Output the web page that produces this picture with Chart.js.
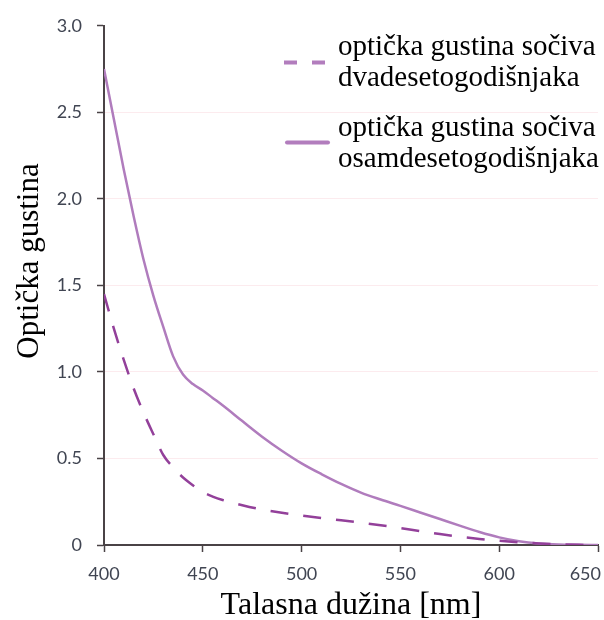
<!DOCTYPE html>
<html lang="sr">
<head>
  <meta charset="UTF-8">
  <title>Optička gustina sočiva</title>
  <script src="https://cdn.jsdelivr.net/npm/chart.js"></script>
  <style>
    body {
      margin: 0;
      background: #fff;
    }
    #wrap {
      width: 604px;
      height: 620px;
    }
  </style>
</head>
<body>
  <div id="wrap">
    <canvas id="lensChart" width="604" height="620"></canvas>
  </div>

  <script>
    // wavelength samples (nm)
    const wavelengths = [400, 405, 410, 415, 420, 425, 430, 435, 440, 445, 450, 455, 460, 470, 480, 490,
                         500, 510, 520, 530, 540, 550, 560, 570, 580, 590, 600, 610, 620, 630, 640, 650];

    // lens optical density, 20-year-old
    const density20 = [1.45, 1.25, 1.07, 0.905, 0.765, 0.64, 0.52, 0.448, 0.39, 0.345, 0.306, 0.28, 0.26, 0.23, 0.205, 0.186,
                       0.17, 0.156, 0.143, 0.129, 0.114, 0.098, 0.08, 0.063, 0.048, 0.035, 0.025, 0.016, 0.009, 0.004, 0.001, 0];

    // lens optical density, 80-year-old
    const density80 = [2.75, 2.46, 2.17, 1.90, 1.65, 1.44, 1.26, 1.09, 0.985, 0.93, 0.893, 0.85, 0.807, 0.716, 0.626, 0.545,
                       0.472, 0.41, 0.353, 0.303, 0.263, 0.226, 0.188, 0.15, 0.112, 0.075, 0.044, 0.022, 0.009, 0.003, 0.001, 0];

    const seriesLabels = [
      ['optička gustina sočiva', 'dvadesetogodišnjaka'],
      ['optička gustina sočiva', 'osamdesetogodišnjaka']
    ];

    const xTicks = [400, 450, 500, 550, 600, 650];
    const yTicks = [0, 0.5, 1.0, 1.5, 2.0, 2.5, 3.0];

    const yTitle = 'Optička gustina';
    const xTitle = 'Talasna dužina [nm]';

    const toPoints = vals => wavelengths.map((w, i) => ({ x: w, y: vals[i] }));

    const axisColor = '#4a4346';
    const tickFont = { family: 'Lato', size: 18 };

    // legend + rotated y title, drawn inside the plot
    const extras = {
      id: 'extras',
      afterLayout(chart) {
        // keep the last x label inside the canvas
        const items = chart.scales.x.getLabelItems();
        const last = items[items.length - 1];
        if (last) {
          last.options.textAlign = 'right';
          last.options.translation[0] = 601;
        }
      },
      afterDraw(chart) {
        const ctx = chart.ctx;
        ctx.save();

        // y axis title
        ctx.translate(38, 261);
        ctx.rotate(-Math.PI / 2);
        ctx.font = '31px "Liberation Serif"';
        ctx.fillStyle = '#000';
        ctx.textAlign = 'center';
        ctx.textBaseline = 'alphabetic';
        ctx.fillText(yTitle, 0, 0);
        ctx.restore();

        // legend
        const rows = [
          { lineY: 62.5, baseline: 55, dash: [13, 15], x0: 284, x1: 325 },
          { lineY: 142.5, baseline: 136, dash: [], x0: 287, x1: 328 }
        ];
        ctx.save();
        ctx.font = '29px "Liberation Serif"';
        ctx.textBaseline = 'alphabetic';
        ctx.textAlign = 'left';
        rows.forEach((r, i) => {
          ctx.strokeStyle = '#b27dbd';
          ctx.lineWidth = 4;
          ctx.lineCap = r.dash.length ? 'butt' : 'round';
          ctx.setLineDash(r.dash);
          ctx.beginPath();
          ctx.moveTo(r.x0, r.lineY);
          ctx.lineTo(r.x1, r.lineY);
          ctx.stroke();
          ctx.fillStyle = '#000';
          seriesLabels[i].forEach((line, j) => {
            ctx.fillText(line, 338, r.baseline + j * 31);
          });
        });
        ctx.restore();
      }
    };

    new Chart(document.getElementById('lensChart'), {
      type: 'line',
      data: {
        datasets: [
          {
            label: seriesLabels[0].join(' '),
            data: toPoints(density20),
            borderColor: '#93409a',
            borderWidth: 2.5,
            borderDash: [18, 15],
            pointRadius: 0,
            cubicInterpolationMode: 'monotone',
            fill: false
          },
          {
            label: seriesLabels[1].join(' '),
            data: toPoints(density80),
            borderColor: '#b07cbd',
            borderWidth: 2.5,
            pointRadius: 0,
            cubicInterpolationMode: 'monotone',
            fill: false
          }
        ]
      },
      options: {
        responsive: false,
        animation: false,
        layout: { padding: { top: 22, right: 6, left: 0, bottom: 0 } },
        plugins: {
          legend: { display: false },
          tooltip: { enabled: false }
        },
        scales: {
          x: {
            type: 'linear',
            min: 400,
            max: 650,
            afterBuildTicks: s => { s.ticks = xTicks.map(v => ({ value: v })); },
            afterFit: s => { s.height = 75; s.paddingRight = 0; },
            border: { color: axisColor, width: 2 },
            grid: { drawOnChartArea: false, tickLength: 7, tickColor: axisColor, tickWidth: 1.5 },
            ticks: { color: '#404552', font: tickFont, padding: 11, maxRotation: 0 },
            title: {
              display: true,
              text: xTitle,
              color: '#000',
              font: { family: 'Liberation Serif', size: 32, lineHeight: 1 },
              padding: { top: 0, bottom: -2 }
            }
          },
          y: {
            min: 0,
            max: 3,
            afterBuildTicks: s => { s.ticks = yTicks.map(v => ({ value: v })); },
            afterFit: s => { s.width = 104; },
            border: { color: axisColor, width: 2 },
            grid: {
              color: ctx => (ctx.tick && (ctx.tick.value === 0 || ctx.tick.value === 3)) ? 'rgba(0,0,0,0)' : '#fcebee',
              lineWidth: 1,
              tickLength: 7,
              tickColor: axisColor,
              tickWidth: 1.5
            },
            ticks: {
              color: '#404552',
              font: tickFont,
              padding: 15,
              callback: v => v === 0 ? '0' : v.toFixed(1)
            }
          }
        }
      },
      plugins: [extras]
    });
  </script>
</body>
</html>
